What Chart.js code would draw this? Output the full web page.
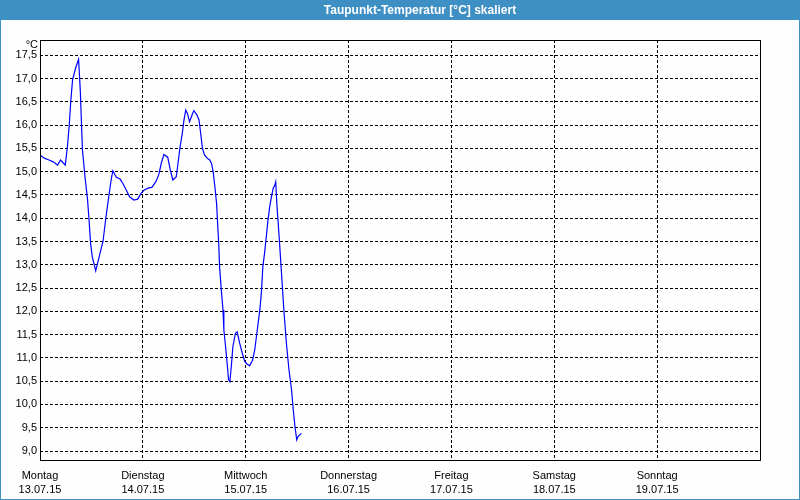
<!DOCTYPE html>
<html>
<head>
<meta charset="utf-8">
<title>Taupunkt-Temperatur</title>
<script src="https://cdn.jsdelivr.net/npm/chart.js@4.4.1/dist/chart.umd.min.js"></script>
<style>
  html, body { margin: 0; padding: 0; background: #fff; }
  #wrap { width: 800px; height: 500px; }
</style>
</head>
<body>
<div id="wrap"><canvas id="chart"></canvas></div>
<script>
const title = "Taupunkt-Temperatur [°C] skaliert"
const unit = "°C"

// x tick labels, one per day (tick every 24 h)
const dayNames = ["Montag", "Dienstag", "Mittwoch", "Donnerstag", "Freitag", "Samstag", "Sonntag"]
const dayDates = ["13.07.15", "14.07.15", "15.07.15", "16.07.15", "17.07.15", "18.07.15", "19.07.15"]

// y tick values
const yTicks = [9.0, 9.5, 10.0, 10.5, 11.0, 11.5, 12.0, 12.5, 13.0, 13.5, 14.0, 14.5, 15.0, 15.5, 16.0, 16.5, 17.0, 17.5]

// hours since Monday 00:00
const hours = [
  0.0, 1.0, 2.1, 3.1, 4.1, 4.8, 5.9, 6.4, 6.8, 7.2, 7.6, 8.3, 9.0, 9.4, 9.9, 10.5,
  11.1, 11.5, 11.8, 12.2, 13.0, 13.8, 14.7, 15.4, 16.1, 16.6, 17.0, 17.8, 18.7, 19.3,
  20.1, 20.9, 21.9, 22.8, 23.6, 24.4, 25.4, 26.1, 27.0, 27.7, 28.3, 28.9, 29.8, 30.4,
  31.0, 31.8, 32.2, 32.7, 33.2, 33.6, 34.0, 34.4, 34.9, 35.5, 35.9, 36.6, 37.1, 37.5,
  37.9, 38.4, 39.0, 39.6, 40.0, 40.4, 40.8, 41.2, 41.4, 41.7, 41.9, 42.3, 42.7, 42.9,
  43.3, 43.6, 44.0, 44.3, 44.7, 45.0, 45.6, 46.0, 46.6, 47.2, 47.8, 48.3, 48.9, 49.6,
  50.1, 50.6, 51.3, 51.7, 52.0, 52.4, 52.8, 53.2, 53.6, 54.0, 54.4, 54.8, 55.0, 55.3,
  55.8, 56.3, 56.9, 57.5, 58.1, 58.7, 59.1, 59.5, 59.9, 60.2, 61.0
]
const dewPoint = [
  15.36, 15.29, 15.25, 15.21, 15.14, 15.25, 15.14, 15.54, 15.97, 16.54, 16.97, 17.22, 17.41, 16.75, 15.47, 14.89,
  14.39, 13.89, 13.46, 13.17, 12.87, 13.17, 13.50, 14.03, 14.50, 14.82, 15.02, 14.88, 14.84, 14.75,
  14.61, 14.46, 14.39, 14.41, 14.54, 14.61, 14.65, 14.66, 14.78, 14.93, 15.18, 15.37, 15.31, 15.04,
  14.82, 14.89, 15.18, 15.54, 15.82, 16.11, 16.32, 16.25, 16.07, 16.22, 16.31, 16.22, 16.11, 15.82,
  15.50, 15.36, 15.29, 15.25, 15.18, 15.00, 14.68, 14.32, 13.96, 13.46, 12.96, 12.46, 12.03, 11.60,
  11.24, 10.95, 10.53, 10.49, 10.88, 11.24, 11.53, 11.56, 11.31, 11.10, 10.92, 10.87, 10.83, 10.95,
  11.17, 11.53, 12.03, 12.46, 12.96, 13.25, 13.60, 13.96, 14.25, 14.46, 14.64, 14.71, 14.78, 14.25,
  13.60, 12.89, 12.03, 11.31, 10.74, 10.31, 9.88, 9.52, 9.24, 9.31, 9.38
]

const BAR = "#3d8fc4"
const FONT = "'Liberation Sans', Arial, sans-serif"

// blue title bar, outer frame, plot frame and the unit label
const chrome = {
  id: "chrome",
  beforeDraw(chart) {
    const c = chart.ctx
    c.save()
    c.fillStyle = "#fdfefd"
    c.fillRect(0, 0, chart.width, chart.height)
    c.fillStyle = BAR
    c.fillRect(0, 0, chart.width, 20)
    c.strokeStyle = BAR
    c.lineWidth = 1
    c.strokeRect(0.5, 0.5, chart.width - 1, chart.height - 1)
    c.fillStyle = "#fff"
    c.font = "bold 12px " + FONT
    c.textAlign = "center"
    c.textBaseline = "middle"
    c.fillText(title, 420, 10.5)
    c.restore()
  },
  afterDraw(chart) {
    const c = chart.ctx
    const a = chart.chartArea
    c.save()
    c.strokeStyle = "#000"
    c.lineWidth = 1
    c.setLineDash([])
    c.strokeRect(Math.round(a.left) + 0.5, Math.round(a.top) + 0.5,
      Math.round(a.right - a.left), Math.round(a.bottom - a.top))
    c.fillStyle = "#000"
    c.font = "11px " + FONT
    c.textAlign = "right"
    c.textBaseline = "middle"
    c.fillText(unit, 38, 45)
    c.restore()
  }
}

const ctx = document.getElementById("chart").getContext("2d")
const chart = new Chart(ctx, {
  type: "line",
  data: {
    datasets: [{
      data: hours.map((h, i) => ({x: h, y: dewPoint[i]})),
      borderColor: "#0000ff",
      borderWidth: 1.2,
      pointRadius: 0,
      tension: 0,
      fill: false
    }]
  },
  options: {
    responsive: true,
    maintainAspectRatio: false,
    animation: false,
    devicePixelRatio: 1,
    layout: {padding: {top: 40, right: 40, left: 0, bottom: 0}},
    plugins: {legend: {display: false}, tooltip: {enabled: false}},
    scales: {
      x: {
        type: "linear",
        min: 0,
        max: 168,
        afterBuildTicks: s => { s.ticks = dayNames.map((d, i) => ({value: i * 24})) },
        afterFit: s => { s.height = 40 },
        border: {display: false, dash: [3, 2]},
        grid: {
          color: c => c.tick && c.tick.value === 0 ? "rgba(0,0,0,0)" : "#000",
          lineWidth: 1,
          drawTicks: false
        },
        ticks: {
          autoSkip: false,
          maxRotation: 0,
          padding: 9,
          color: "#000",
          font: {family: FONT, size: 11, lineHeight: 1.3},
          callback: v => { const i = Math.round(v / 24); return [dayNames[i], dayDates[i]] }
        }
      },
      y: {
        min: 8.807,
        max: 17.827,
        afterBuildTicks: s => { s.ticks = yTicks.map(v => ({value: v})) },
        afterFit: s => { s.width = 40 },
        border: {display: false, dash: [3, 2]},
        grid: {color: "#000", lineWidth: 1, drawTicks: false},
        ticks: {
          padding: 3,
          color: "#000",
          font: {family: FONT, size: 11},
          callback: v => v.toFixed(1).replace(".", ",")
        }
      }
    }
  },
  plugins: [chrome]
})
</script>
</body>
</html>
